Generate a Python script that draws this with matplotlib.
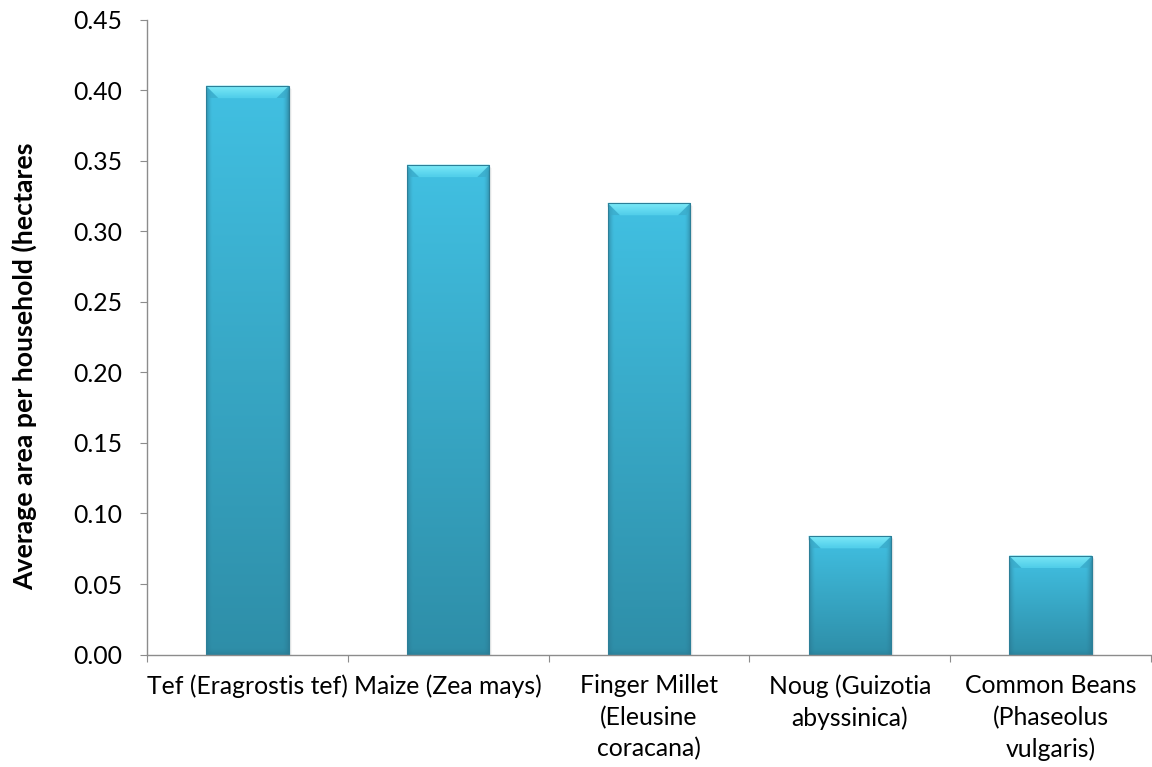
import numpy as np
import matplotlib
matplotlib.use("Agg")
import matplotlib.pyplot as plt
from matplotlib.patches import Polygon, Rectangle
from matplotlib.colors import to_rgb

# Crop area data
crops = [
    "Tef (Eragrostis tef)",
    "Maize (Zea mays)",
    "Finger Millet\n(Eleusine\ncoracana)",
    "Noug (Guizotia\nabyssinica)",
    "Common Beans\n(Phaseolus\nvulgaris)",
]
area_ha = [0.403, 0.347, 0.320, 0.084, 0.070]
y_ticks = [0.00, 0.05, 0.10, 0.15, 0.20, 0.25, 0.30, 0.35, 0.40, 0.45]
y_label = "Average area per household (hectares"

plt.rcParams["font.family"] = ["Lato", "DejaVu Sans"]

W, H, DPI = 1152, 767, 100
fig = plt.figure(figsize=(W / DPI, H / DPI), dpi=DPI)
ax_l, ax_b, ax_r, ax_t = 147 / W, 1 - 654.6 / H, 1151 / W, 1 - 19.6 / H
ax = fig.add_axes([ax_l, ax_b, ax_r - ax_l, ax_t - ax_b])

n = len(crops)
xs = np.arange(n)
bar_w = 0.41
ax.set_xlim(-0.5, n - 0.5)
ax.set_ylim(0, 0.45)

# pixel -> data conversions
ax_px_w = (ax_r - ax_l) * W
ax_px_h = (ax_t - ax_b) * H
px_x = n / ax_px_w
px_y = 0.45 / ax_px_h

bars = ax.bar(xs, area_ha, width=bar_w, color="#3BB5D8", edgecolor="none", zorder=2)

top_c = np.array(to_rgb("#41C0E2"))
bot_c = np.array(to_rgb("#2E8EA8"))
edge_dark = np.array(to_rgb("#2A7790"))
bevel_top = np.array(to_rgb("#7DEBF8"))
bevel_bot = np.array(to_rgb("#4FCDEA"))

for b in bars:
    x0 = b.get_x()
    x1 = x0 + b.get_width()
    top = b.get_height()
    # soft shadow to the right
    for k, a in enumerate([0.10, 0.06, 0.03]):
        ax.add_patch(Rectangle((x0 + (k + 1) * px_x, 0.0), b.get_width(), top - (k + 1) * px_y,
                               facecolor="black", alpha=a, edgecolor="none", zorder=1.5))
    # body gradient with darker rim
    nh, nw = 200, 80
    v = np.linspace(0, 1, nh)[:, None]
    u = np.linspace(0, 1, nw)[None, :]
    base = top_c[None, None, :] * (1 - v[..., None]) + bot_c[None, None, :] * v[..., None]
    base = np.broadcast_to(base, (nh, nw, 3)).copy()
    bw_px = b.get_width() / px_x
    edge = np.clip(1 - np.minimum(u, 1 - u) * bw_px / 6.0, 0, 1) ** 1.5
    edge = np.broadcast_to(edge, (nh, nw))
    base = base * (1 - 0.6 * edge[..., None]) + edge_dark * (0.6 * edge[..., None])
    bh_px = top / px_y
    bottom_edge = np.clip(1 - (1 - v) * bh_px / 6.0, 0, 1) ** 1.5
    bottom_edge = np.broadcast_to(bottom_edge, (nh, nw))
    base = base * (1 - 0.45 * bottom_edge[..., None]) + edge_dark * (0.45 * bottom_edge[..., None])
    ax.imshow(base, extent=(x0, x1, 0, top), aspect="auto", zorder=2.5, interpolation="bilinear")
    # top bevel (gradient trapezoid)
    bev_h = 12 * px_y
    bev_w = 12 * px_x
    steps = 12
    for i in range(steps):
        f0, f1 = i / steps, (i + 1) / steps
        c = bevel_top * (1 - f0) + bevel_bot * f0
        ax.add_patch(Polygon([(x0 + bev_w * f0, top - bev_h * f0), (x1 - bev_w * f0, top - bev_h * f0),
                              (x1 - bev_w * f1, top - bev_h * f1), (x0 + bev_w * f1, top - bev_h * f1)],
                             closed=True, facecolor=c, edgecolor=c, linewidth=0.3, zorder=3))
    # bevel corner shading
    ax.add_patch(Polygon([(x0, top), (x0 + bev_w, top - bev_h), (x0 + bev_w * 0.3, top - bev_h), (x0, top - bev_h * 0.3)],
                         closed=True, facecolor="#3AA8C6", edgecolor="none", alpha=0.6, zorder=3.05))
    ax.add_patch(Polygon([(x1, top), (x1 - bev_w, top - bev_h), (x1 - bev_w * 0.3, top - bev_h), (x1, top - bev_h * 0.3)],
                         closed=True, facecolor="#3AA8C6", edgecolor="none", alpha=0.6, zorder=3.05))
    ax.add_patch(Rectangle((x0, 0), b.get_width(), top, facecolor="none",
                           edgecolor="#2C7F98", linewidth=0.8, zorder=3.2))

# axes styling
for s in ["top", "right"]:
    ax.spines[s].set_visible(False)
for s in ["left", "bottom"]:
    ax.spines[s].set_color("#8C8C8C")
    ax.spines[s].set_linewidth(1.0)
    ax.spines[s].set_zorder(4)

ax.set_yticks(y_ticks)
ax.set_yticklabels([f"{t:.2f}" for t in y_ticks], fontsize=17.8)
ax.tick_params(axis="y", direction="out", length=5, color="#8C8C8C", pad=13)

ax.set_xticks(np.arange(-0.5, n, 1.0))
ax.set_xticklabels([])
ax.tick_params(axis="x", direction="out", length=5, color="#8C8C8C")
ax.set_xticks(xs, minor=True)
ax.set_xticklabels(crops, minor=True, fontsize=17.8, linespacing=1.44, va="top", ha="center")
ax.tick_params(axis="x", which="minor", length=0, pad=14)

fig.text(24 / W, 1 - 366 / H, y_label, rotation=90, fontsize=19.2, fontweight="bold",
         ha="center", va="center")

fig.savefig("out.png", dpi=DPI)
